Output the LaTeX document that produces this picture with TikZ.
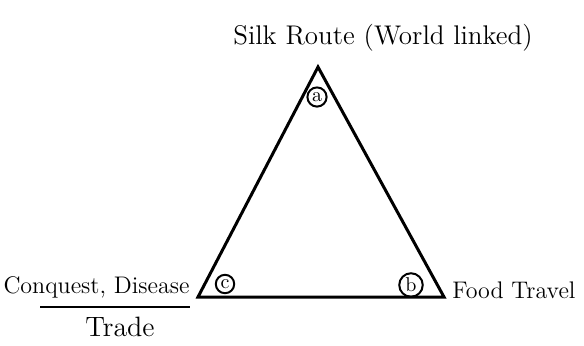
\documentclass[tikz,border=0pt]{standalone}
\usetikzlibrary{positioning}
\begin{document}
\begin{tikzpicture}[x=0.5pt,y=-0.5pt,
    corner/.style={draw,circle,line width=1pt,inner sep=1pt,font=\normalsize},
    lbl/.style={font=\large,inner sep=0pt}]
    \useasboundingbox (0,0) rectangle (584,345);
    \coordinate (A) at (318,67);
    \coordinate (B) at (444,297);
    \coordinate (C) at (198,297);
    \draw[line width=1.5pt,line join=miter] (A)--(B)--(C)--cycle;
    \node[corner] (a) at (317,97) {a};
    \node[corner] (b) at (411,285) {b};
    \node[corner] (c) at (225,284) {c};
    \node[lbl,font=\fontsize{13.5}{16}\selectfont] (silk) at (383,38) {Silk Route (World linked)};
    \node[lbl,anchor=east] (conq) at (190,287) {Conquest, Disease};
    \coordinate (u1) at (40,307);
    \coordinate (u2) at (190,307);
    \draw[line width=1pt] (u1)--(u2);
    \node[lbl,font=\fontsize{14}{16}\selectfont] (trade) at (120,327) {Trade};
    \node[lbl,anchor=west] (food) at (452,290) {Food Travel};
\end{tikzpicture}
\end{document}
